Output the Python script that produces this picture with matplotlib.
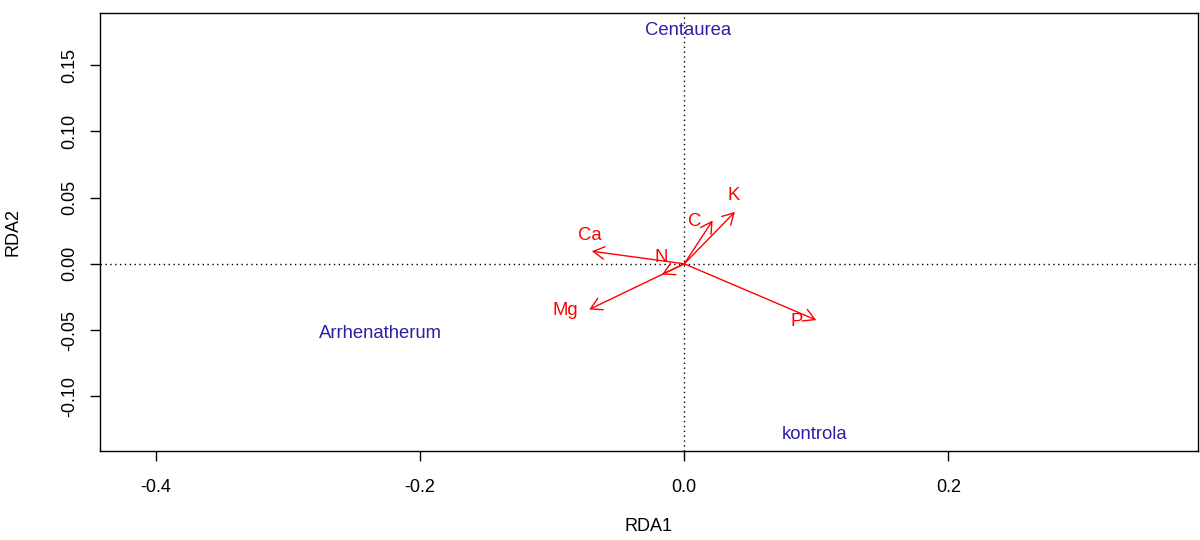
import matplotlib
matplotlib.use('Agg')
import matplotlib.pyplot as plt

plt.rcParams['font.family'] = ['Liberation Sans', 'DejaVu Sans']

# Biplot arrows (environmental variables)
env_names = ['K', 'C', 'Ca', 'N', 'Mg', 'P']
env_rda1 = [0.0384, 0.0215, -0.070, -0.0169, -0.072, 0.100]
env_rda2 = [0.0392, 0.0327, 0.0095, -0.0081, -0.0345, -0.0425]
# where the labels sit
env_lab_x = [0.0374, 0.0076, -0.0712, -0.0177, -0.090, 0.0848]
env_lab_y = [0.0515, 0.0320, 0.0213, 0.0045, -0.0352, -0.0432]

# Group scores
grp_names = ['Centaurea', 'Arrhenatherum', 'kontrola']
grp_rda1 = [0.003, -0.2303, 0.0985]
grp_rda2 = [0.1760, -0.0525, -0.1287]

xticks = [-0.4, -0.2, 0.0, 0.2]
yticks = [0.15, 0.10, 0.05, 0.00, -0.05, -0.10]

fig = plt.figure(figsize=(12, 5.4), dpi=100)
ax = fig.add_axes([100 / 1200, 89 / 540, 1098 / 1200, 438 / 540])

ax.axhline(0, color='black', linestyle=(0, (1, 2.5)), linewidth=1)
ax.axvline(0, color='black', linestyle=(0, (1, 2.5)), linewidth=1)

for name, x, y, lx, ly in zip(env_names, env_rda1, env_rda2, env_lab_x, env_lab_y):
    ax.annotate('', xy=(x, y), xytext=(0, 0),
                arrowprops=dict(arrowstyle='->,head_length=0.8,head_width=0.45',
                                color='red', lw=1, shrinkA=0, shrinkB=0,
                                mutation_scale=10))
    ax.text(lx, ly, name, color='red', fontsize=13.3, ha='center', va='center')

for name, x, y in zip(grp_names, grp_rda1, grp_rda2):
    ax.text(x, y, name, color='#2a20a6', fontsize=13.3, ha='center', va='center')

ax.set_xlim(-0.4424, 0.389)
ax.set_ylim(-0.1413, 0.1893)
ax.set_xticks(xticks)
ax.set_xticklabels(['%.1f' % t for t in xticks])
ax.set_yticks(yticks)
ax.set_yticklabels(['%.2f' % t for t in yticks], rotation=90, va='center')
ax.tick_params(direction='out', length=7, width=1, labelsize=13, pad=13)
ax.tick_params(axis='y', pad=9)

for s in ax.spines.values():
    s.set_linewidth(1)

ax.set_xlabel('RDA1', fontsize=13, labelpad=16)
ax.set_ylabel('RDA2', fontsize=13, labelpad=28)

fig.savefig('out.png', dpi=100)
